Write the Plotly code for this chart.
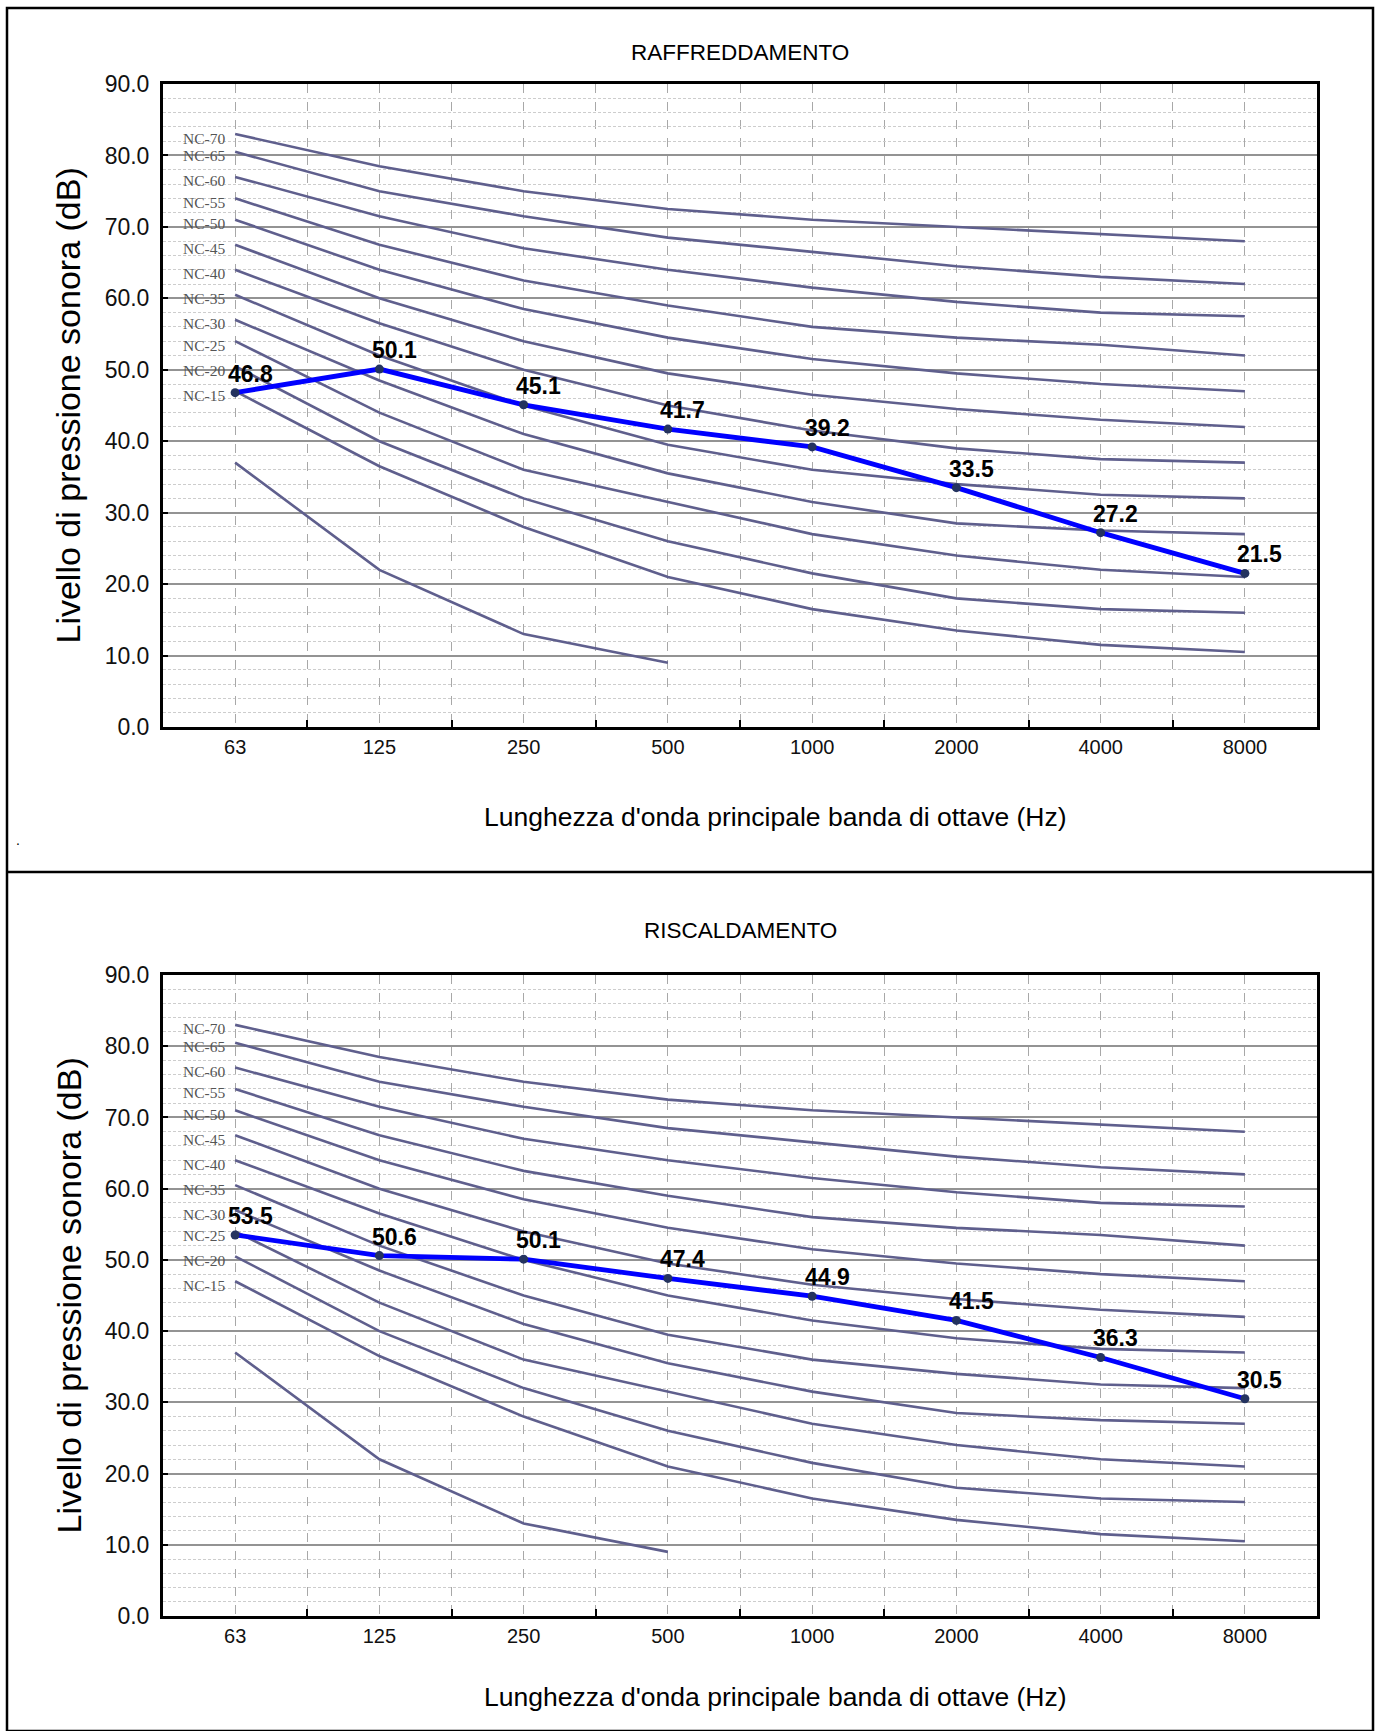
import plotly.graph_objects as go

# ---------------- data ----------------
categories = ["63", "125", "250", "500", "1000", "2000", "4000", "8000"]

nc70 = [83, 78.5, 75, 72.5, 71, 70, 69, 68]
nc65 = [80.5, 75, 71.5, 68.5, 66.5, 64.5, 63, 62]
nc60 = [77, 71.5, 67, 64, 61.5, 59.5, 58, 57.5]
nc55 = [74, 67.5, 62.5, 59, 56, 54.5, 53.5, 52]
nc50 = [71, 64, 58.5, 54.5, 51.5, 49.5, 48, 47]
nc45 = [67.5, 60, 54, 49.5, 46.5, 44.5, 43, 42]
nc40 = [64, 56.5, 50, 45, 41.5, 39, 37.5, 37]
nc35 = [60.5, 52, 45, 39.5, 36, 34, 32.5, 32]
nc30 = [57, 48.5, 41, 35.5, 31.5, 28.5, 27.5, 27]
nc25 = [54, 44, 36, 31.5, 27, 24, 22, 21]
nc20 = [50.5, 40, 32, 26, 21.5, 18, 16.5, 16]
nc15 = [47, 36.5, 28, 21, 16.5, 13.5, 11.5, 10.5]
threshold = [37, 22, 13, 9]  # unlabeled lowest curve (63..500 Hz)

nc_names = ["NC-70", "NC-65", "NC-60", "NC-55", "NC-50", "NC-45",
            "NC-40", "NC-35", "NC-30", "NC-25", "NC-20", "NC-15"]
nc_curves = [nc70, nc65, nc60, nc55, nc50, nc45, nc40, nc35, nc30, nc25, nc20, nc15]

raffreddamento = [46.8, 50.1, 45.1, 41.7, 39.2, 33.5, 27.2, 21.5]
riscaldamento = [53.5, 50.6, 50.1, 47.4, 44.9, 41.5, 36.3, 30.5]

panel_titles = ["RAFFREDDAMENTO", "RISCALDAMENTO"]
y_title = "Livello di pressione sonora (dB)"
x_title = "Lunghezza d'onda principale banda di ottave (Hz)"
y_ticks = [0, 10, 20, 30, 40, 50, 60, 70, 80, 90]

# ---------------- layout geometry ----------------
W, H = 1379, 1731
SANS = "Liberation Sans, Arial, sans-serif"
SERIF = "Liberation Serif, Times New Roman, serif"
NC_COLOR = "#5f5f8d"

xi = list(range(len(categories)))
def px_x(p):
    return p / W
def px_y(p):
    return 1 - p / H

x_dom = [px_x(163), px_x(1317)]
panels = [
    dict(top=84, bottom=727, title_y=52, xt_y=817),
    dict(top=975, bottom=1616, title_y=930, xt_y=1697),
]

fig = go.Figure()
annotations = []

for k, (pan, series) in enumerate(zip(panels, [raffreddamento, riscaldamento])):
    xa = "x" if k == 0 else "x2"
    ya = "y" if k == 0 else "y2"
    # NC curves
    for name, vals in zip(nc_names, nc_curves):
        fig.add_trace(go.Scatter(x=xi[:len(vals)], y=vals, mode="lines",
                                 line=dict(color=NC_COLOR, width=2.6),
                                 hoverinfo="skip", showlegend=False,
                                 xaxis=xa, yaxis=ya))
        annotations.append(dict(x=xi[0], y=vals[0], xref=xa, yref=ya,
                                text=name, showarrow=False, xanchor="right",
                                yanchor="middle", xshift=-8, yshift=-4,
                                font=dict(family=SERIF, size=15.5, color="#555555")))
    fig.add_trace(go.Scatter(x=xi[:len(threshold)], y=threshold, mode="lines",
                             line=dict(color=NC_COLOR, width=2.6),
                             hoverinfo="skip", showlegend=False,
                             xaxis=xa, yaxis=ya))
    # measured series
    fig.add_trace(go.Scatter(x=xi, y=series, mode="lines+markers",
                             line=dict(color="#0000ff", width=4.8),
                             marker=dict(color="#24335f", size=9),
                             showlegend=False, xaxis=xa, yaxis=ya))
    for xv, v in zip(xi, series):
        annotations.append(dict(x=xv, y=v, xref=xa, yref=ya, text=f"<b>{v:.1f}</b>",
                                showarrow=False, xanchor="center", yanchor="middle",
                                xshift=15, yshift=19,
                                font=dict(family=SANS, size=23, color="black")))
    # titles
    annotations.append(dict(x=(x_dom[0] + x_dom[1]) / 2, y=px_y(pan["title_y"]),
                            xref="paper", yref="paper", text=panel_titles[k],
                            showarrow=False, xanchor="center", yanchor="middle",
                            font=dict(family=SANS, size=22.5, color="black")))
    annotations.append(dict(x=px_x(775), y=px_y(pan["xt_y"]),
                            xref="paper", yref="paper", text=x_title,
                            showarrow=False, xanchor="center", yanchor="middle",
                            font=dict(family=SANS, size=26.5, color="black")))
    annotations.append(dict(x=px_x(68), y=px_y((pan["top"] + pan["bottom"]) / 2),
                            xref="paper", yref="paper", text=y_title, textangle=-90,
                            showarrow=False, xanchor="center", yanchor="middle",
                            font=dict(family=SANS, size=34, color="black")))

# stray dot in the original
annotations.append(dict(x=px_x(14), y=px_y(840), xref="paper", yref="paper", text=".",
                        showarrow=False, font=dict(family=SANS, size=14, color="black")))

def xaxis_cfg(anchor):
    return dict(domain=x_dom, anchor=anchor, range=[-0.5, len(categories) - 0.5],
                tickmode="array", tickvals=xi, ticktext=categories, ticks="",
                showgrid=True, gridcolor="#a8a8a8", griddash="dash", gridwidth=1,
                minor=dict(tickmode="array", tickvals=[i + 0.5 for i in xi[:-1]],
                           ticks="inside", ticklen=7, tickwidth=2, tickcolor="black",
                           showgrid=True, gridcolor="#a8a8a8", griddash="dash", gridwidth=1),
                showline=True, linecolor="black", linewidth=3, mirror=True,
                zeroline=False, ticklabelstandoff=0, automargin=False,
                tickfont=dict(family=SANS, size=20, color="#111111"))

def yaxis_cfg(anchor, top, bottom):
    return dict(domain=[px_y(bottom), px_y(top)], anchor=anchor, range=[0, 90],
                tickmode="array", tickvals=y_ticks, ticktext=[f"{v:.1f}" for v in y_ticks],
                ticks="inside", ticklen=5, tickwidth=2, tickcolor="black",
                showgrid=True, gridcolor="#939393", gridwidth=2,
                minor=dict(dtick=2, showgrid=True, gridcolor="#cdcdcd",
                           griddash="3px,2px", gridwidth=1, ticks=""),
                showline=True, linecolor="black", linewidth=3, mirror=True,
                zeroline=False, ticklabelstandoff=6, automargin=False,
                tickfont=dict(family=SANS, size=23, color="#111111"))

shapes = [
    dict(type="rect", xref="paper", yref="paper", x0=px_x(7), x1=px_x(1373),
         y0=px_y(1731), y1=px_y(8), line=dict(color="black", width=2.5)),
    dict(type="line", xref="paper", yref="paper", x0=px_x(7), x1=px_x(1373),
         y0=px_y(872), y1=px_y(872), line=dict(color="black", width=2.5)),
]

fig.update_layout(
    width=W, height=H, margin=dict(l=0, r=0, t=0, b=0, pad=0, autoexpand=False),
    paper_bgcolor="white", plot_bgcolor="white",
    xaxis=xaxis_cfg("y"), yaxis=yaxis_cfg("x", panels[0]["top"], panels[0]["bottom"]),
    xaxis2=xaxis_cfg("y2"), yaxis2=yaxis_cfg("x2", panels[1]["top"], panels[1]["bottom"]),
    annotations=annotations, shapes=shapes, showlegend=False,
)

page_fix = ("document.documentElement.style.margin='0';document.body.style.margin='0';"
            "document.body.style.padding='0';document.body.style.overflow='hidden';")
fig.write_html("out.html", config={"displayModeBar": False}, post_script=page_fix)
